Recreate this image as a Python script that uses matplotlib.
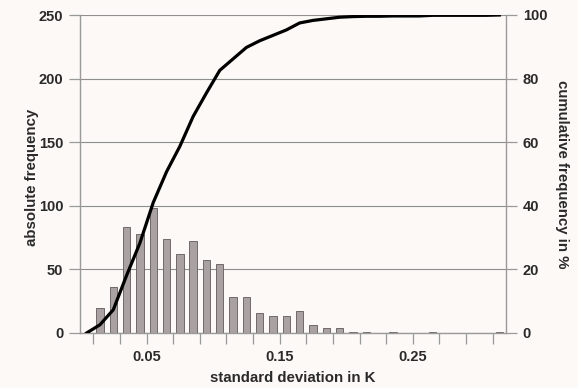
import matplotlib.pyplot as plt
import numpy as np

# bin centres (standard deviation in K), 0.01 wide
bin_centres = [0.005, 0.015, 0.025, 0.035, 0.045, 0.055, 0.065, 0.075, 0.085, 0.095,
               0.105, 0.115, 0.125, 0.135, 0.145, 0.155, 0.165, 0.175, 0.185, 0.195,
               0.205, 0.215, 0.225, 0.235, 0.245, 0.255, 0.265, 0.275, 0.285, 0.295,
               0.305, 0.315]
abs_freq = [0, 20, 36, 83, 78, 98, 74, 62, 72, 57,
            54, 28, 28, 16, 13, 13, 17, 6, 4, 4,
            1, 1, 0, 1, 0, 0, 1, 0, 0, 0,
            0, 1]
cum_freq = [0, 2.6, 7.3, 18.1, 28.3, 41.0, 50.7, 58.7, 68.1, 75.5,
            82.6, 86.2, 89.8, 91.9, 93.6, 95.3, 97.5, 98.3, 98.8, 99.3,
            99.5, 99.6, 99.6, 99.7, 99.7, 99.7, 99.9, 99.9, 99.9, 99.9,
            99.9, 100]
xtick_pos = [0.01, 0.03, 0.05, 0.07, 0.09, 0.11, 0.13, 0.15, 0.17, 0.19,
             0.21, 0.23, 0.25, 0.27, 0.29, 0.31]
xtick_labels = ['', '', '0.05', '', '', '', '', '0.15', '', '', '', '', '0.25', '', '', '']

bg = '#fcf9f6'
txt = '#2a2a2a'
axis_grey = '#9a9a9a'

plt.rcParams['font.family'] = ['Liberation Sans', 'DejaVu Sans']
plt.rcParams['font.weight'] = 'bold'

fig = plt.figure(figsize=(5.78, 3.88), dpi=100, facecolor=bg)
ax = fig.add_axes([80 / 578, 55 / 388, 426 / 578, 318 / 388])
ax.set_facecolor(bg)

ax.bar(bin_centres, abs_freq, width=0.0055, color='#aaa2a2', edgecolor='#6f6969',
       linewidth=0.7, zorder=2)
ax.set_xlim(0, 0.32)
ax.set_ylim(0, 250)
ax.set_yticks(np.arange(0, 251, 50))
ax.yaxis.grid(True, color='#8e8e8e', linewidth=0.8, zorder=0)
ax.set_axisbelow(True)

ax.set_xticks(xtick_pos)
ax.set_xticklabels(xtick_labels)
ax.tick_params(axis='x', direction='out', length=8, color=axis_grey, width=0.9,
               labelsize=10.5, labelcolor=txt, pad=4)
ax.tick_params(axis='y', direction='out', length=8, color=axis_grey, width=0.9,
               labelsize=10.5, labelcolor=txt, pad=4)
for side in ['left', 'bottom']:
    ax.spines[side].set_color(axis_grey)
    ax.spines[side].set_linewidth(1.0)
ax.spines['top'].set_visible(False)
ax.spines['right'].set_visible(False)

ax.set_xlabel('standard deviation in K', fontsize=10.8, fontweight='bold', color=txt, labelpad=5)
ax.set_ylabel('absolute frequency', fontsize=10.8, fontweight='bold', color=txt,
              va='center')
ax.yaxis.set_label_coords(-0.112, 0.49)

ax2 = ax.twinx()
ax2.plot(bin_centres, cum_freq, color='black', linewidth=2.3, zorder=5)
ax2.set_ylim(0, 100)
ax2.set_yticks(np.arange(0, 101, 20))
ax2.tick_params(axis='y', direction='out', length=8, color=axis_grey, width=0.9,
                labelsize=10.5, labelcolor=txt, pad=4)
ax2.spines['right'].set_color(axis_grey)
ax2.spines['right'].set_linewidth(1.0)
for side in ['left', 'top', 'bottom']:
    ax2.spines[side].set_visible(False)
ax2.set_ylabel('cumulative frequency in %', fontsize=10.8, fontweight='bold', color=txt,
               rotation=270, labelpad=16)

fig.savefig('out.png', dpi=100, facecolor=bg)
